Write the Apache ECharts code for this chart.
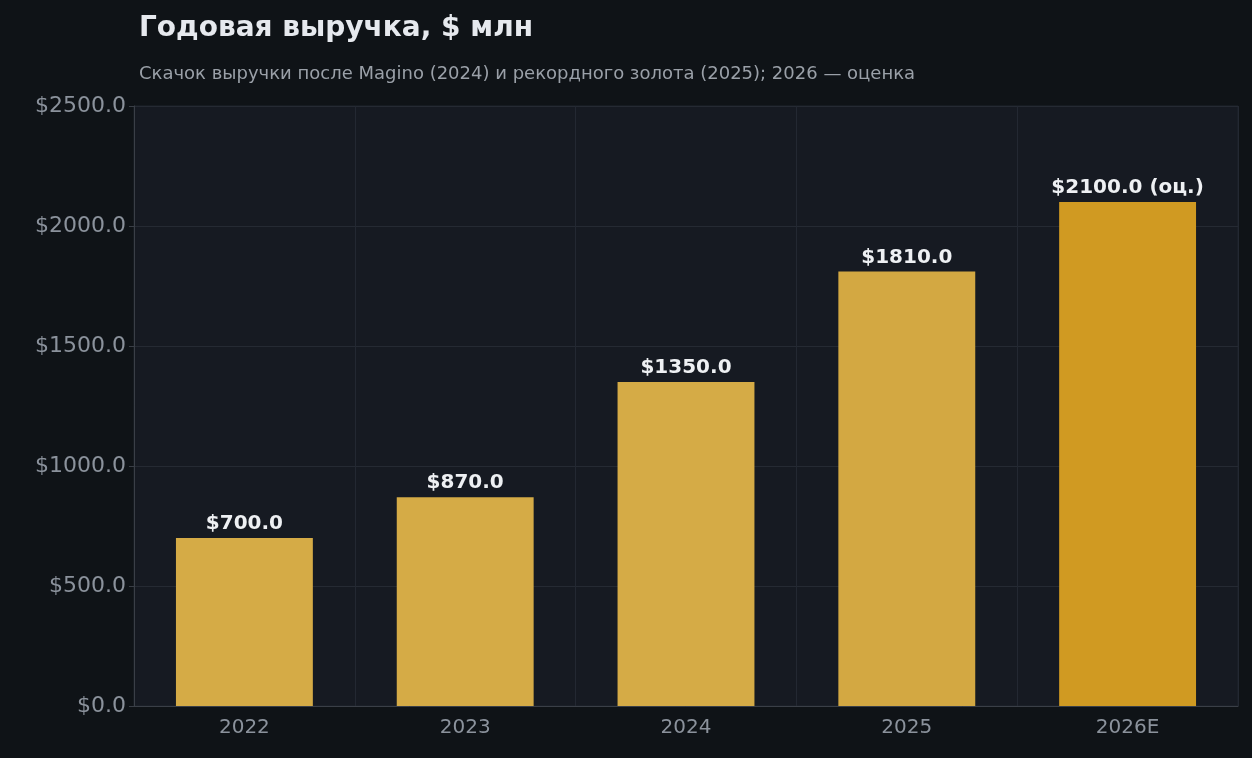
<!DOCTYPE html>
<html><head><meta charset="utf-8">
<script src="https://cdn.jsdelivr.net/npm/echarts@6/dist/echarts.min.js"></script>
<style>html,body{margin:0;background:#0f1317}#c{width:1252px;height:758px}</style>
</head><body><div id="c"></div>
<script>
const categories = ['2022','2023','2024','2025','2026E'];
const revenue = [700, 870, 1350, 1810, 2100];
const labels = ['$700.0','$870.0','$1350.0','$1810.0','$2100.0 (оц.)'];
const yTicks = [0, 500, 1000, 1500, 2000, 2500];
const halfCats = ['a','b','c','d','e','f','g','h','i','j'];
const font = 'DejaVu Sans';
const chart = echarts.init(document.getElementById('c'));
chart.setOption({
  backgroundColor: '#0f1317',
  textStyle: {fontFamily: font},
  title: {
    text: 'Годовая выручка, $ млн', left: 134, top: 10,
    textStyle: {color: '#e6e9ee', fontSize: 28, fontWeight: 'bold', fontFamily: font},
    subtext: 'Скачок выручки после Magino (2024) и рекордного золота (2025); 2026 — оценка',
    subtextStyle: {color: '#9aa0a8', fontSize: 18, fontFamily: font}, itemGap: 22
  },
  grid: {left: 134, right: 14, top: 106, bottom: 52, show: true, backgroundColor: '#161a22', borderColor: '#1f242c', borderWidth: 1},
  xAxis: [{
    type: 'category', data: categories,
    axisLine: {lineStyle: {color: '#3a3f47'}}, axisTick: {show: false},
    axisLabel: {color: '#8b929c', fontSize: 20, margin: 12},
    splitLine: {show: false}
  }, {
    type: 'category', data: halfCats, position: 'bottom', show: true,
    axisLine: {show: false}, axisTick: {show: false}, axisLabel: {show: false},
    splitLine: {show: true, interval: (i) => i % 2 === 0, lineStyle: {color: '#232832'}}
  }],
  yAxis: {
    type: 'value', min: 0, max: 2500, interval: 500,
    axisLine: {show: true, lineStyle: {color: '#3a3f47'}}, axisTick: {show: true, length: 5, lineStyle: {color: '#3a3f47'}},
    axisLabel: {color: '#8b929c', fontSize: 22, formatter: v => yTicks.includes(v) ? '$' + v.toFixed(1) : ''},
    splitLine: {lineStyle: {color: '#252a33'}}
  },
  series: [{
    type: 'bar', barWidth: '62%',
    data: revenue.map((v, i) => ({value: v, itemStyle: {color: i === 4 ? '#d09a22' : (i === 3 ? '#d3a842' : '#d5ab46')}})),
    label: {show: true, position: 'top', distance: 4, color: '#eef0f3', fontSize: 20, fontWeight: 'bold',
      formatter: p => labels[p.dataIndex]}
  }]
});
</script></body></html>
